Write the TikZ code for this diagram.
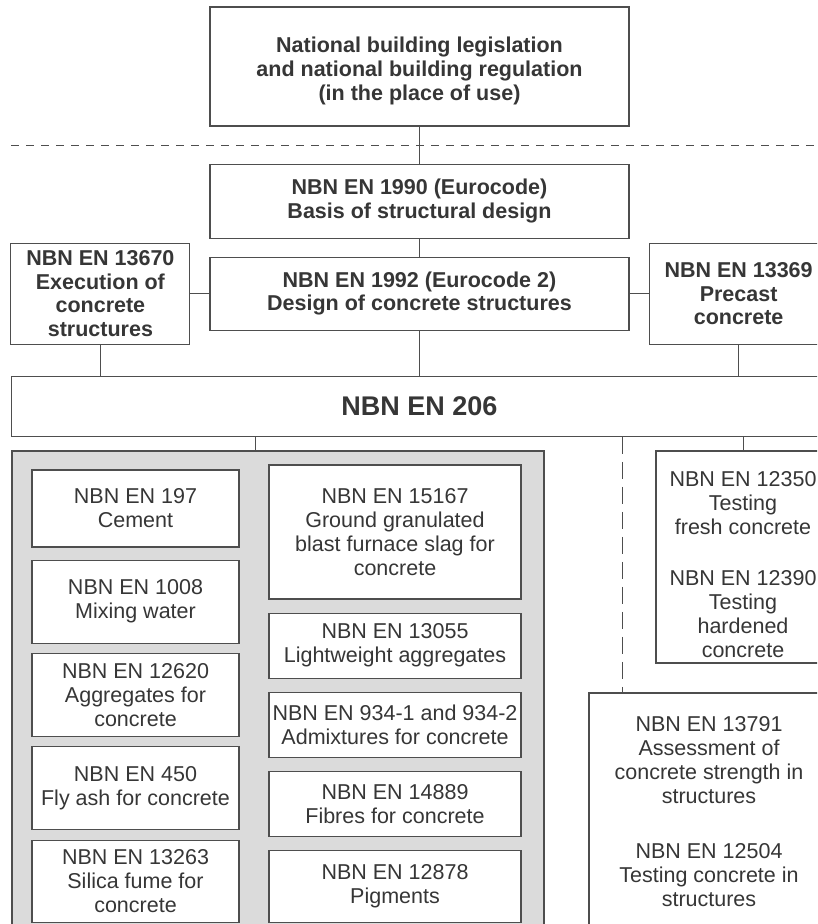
\documentclass[tikz,border=0pt]{standalone}
\usepackage{fontspec}
\setmainfont{Liberation Sans}
\usetikzlibrary{positioning}

\definecolor{inkgray}{HTML}{363636}
\definecolor{rulegray}{HTML}{4E4E4E}
\definecolor{panelgray}{HTML}{DBDBDB}

\tikzset{
  stdbox/.style={draw=rulegray, line width=1.1pt, fill=white, align=center,
    text=inkgray, inner sep=0pt, font=\fontsize{21.5}{24}\selectfont},
  headbox/.style={stdbox, font=\bfseries\fontsize{21.5}{23.5}\selectfont},
  link/.style={draw=rulegray, line width=1pt},
}

\begin{document}
\begin{tikzpicture}[x=1pt, y=-1pt]
  \clip (0,0) rectangle (817,924);
  \draw[link, dash pattern=on 8pt off 7pt] (11,145) -- (817,145);

  \node[headbox, font=\bfseries\fontsize{21.5}{24}\selectfont,
  minimum width=419, minimum height=119] (legis) at (419.5,66.5)
  {\rule{0pt}{25pt}National building legislation\\and national building regulation\\(in the place of use)};
  \node[headbox, minimum width=419, minimum height=74, below=37pt of legis] (en1990)
  {NBN EN 1990 (Eurocode)\\Basis of structural design};
  \node[headbox, minimum width=419, minimum height=73, below=18pt of en1990] (en1992)
  {NBN EN 1992 (Eurocode 2)\\Design of concrete structures};
  \node[headbox, minimum width=179, minimum height=101, left=19pt of en1992] (en13670)
  {NBN EN 13670\\Execution of\\concrete\\structures};
  \node[headbox, minimum width=179, minimum height=101, right=19pt of en1992] (en13369)
  {NBN EN 13369\\Precast\\concrete};
  \node[stdbox, font=\bfseries\fontsize{27}{30}\selectfont,
  minimum width=816, minimum height=60, below=45pt of en1992] (en206) {NBN EN 206};

  \node[draw=rulegray, line width=1.1pt, fill=panelgray,
  minimum width=532, minimum height=484] (panel) at (278,693) {};

  \node[stdbox, minimum width=207, minimum height=77] (en197) at (135.5,508.5)
  {NBN EN 197\\Cement};
  \node[stdbox, minimum width=207, minimum height=83, below=12pt of en197] (en1008)
  {NBN EN 1008\\Mixing water};
  \node[stdbox, minimum width=207, minimum height=83, below=9pt of en1008] (en12620)
  {NBN EN 12620\\Aggregates for\\concrete};
  \node[stdbox, minimum width=207, minimum height=83, below=9pt of en12620] (en450)
  {NBN EN 450\\Fly ash for concrete};
  \node[stdbox, minimum width=207, minimum height=82, below=10pt of en450] (en13263)
  {NBN EN 13263\\Silica fume for\\concrete};

  \node[stdbox, minimum width=252, minimum height=134] (en15167) at (395,532)
  {NBN EN 15167\\Ground granulated\\blast furnace slag for\\concrete};
  \node[stdbox, minimum width=252, minimum height=65, below=13pt of en15167] (en13055)
  {NBN EN 13055\\Lightweight aggregates};
  \node[stdbox, minimum width=252, minimum height=65, below=13pt of en13055] (en934)
  {NBN EN 934-1 and 934-2\\Admixtures for concrete};
  \node[stdbox, minimum width=252, minimum height=65, below=13pt of en934] (en14889)
  {NBN EN 14889\\Fibres for concrete};
  \node[stdbox, minimum width=252, minimum height=72, below=13pt of en14889] (en12878)
  {NBN EN 12878\\Pigments};

  \node[stdbox, minimum width=174, minimum height=212] (en12350) at (743,557)
  {\rule{0pt}{31pt}NBN EN 12350\\Testing\\fresh concrete\\[27pt]NBN EN 12390\\Testing\\hardened\\concrete};
  \node[stdbox, minimum width=240, minimum height=237] (en13791) at (709,811.5)
  {NBN EN 13791\\Assessment of\\concrete strength in\\structures\\[31pt]NBN EN 12504\\Testing concrete in\\structures};

  \coordinate (tapL) at (255,0);
  \coordinate (tapD) at (622,0);
  \draw[link] (legis) -- (en1990);
  \draw[link] (en1990) -- (en1992);
  \draw[link] (en13670.east) -- (en13670.east -| en1992.west);
  \draw[link] (en13369.west) -- (en13369.west -| en1992.east);
  \draw[link] (en13670.south) -- (en13670.south |- en206.north);
  \draw[link] (en1992.south) -- (en1992.south |- en206.north);
  \draw[link] (en13369.south) -- (en13369.south |- en206.north);
  \draw[link] (tapL |- en206.south) -- (tapL |- panel.north);
  \draw[link, dash pattern=on 17pt off 8pt] (tapD |- en206.south) -- (tapD |- en13791.north);
  \draw[link] (en12350.north |- en206.south) -- (en12350.north);
\end{tikzpicture}
\end{document}
